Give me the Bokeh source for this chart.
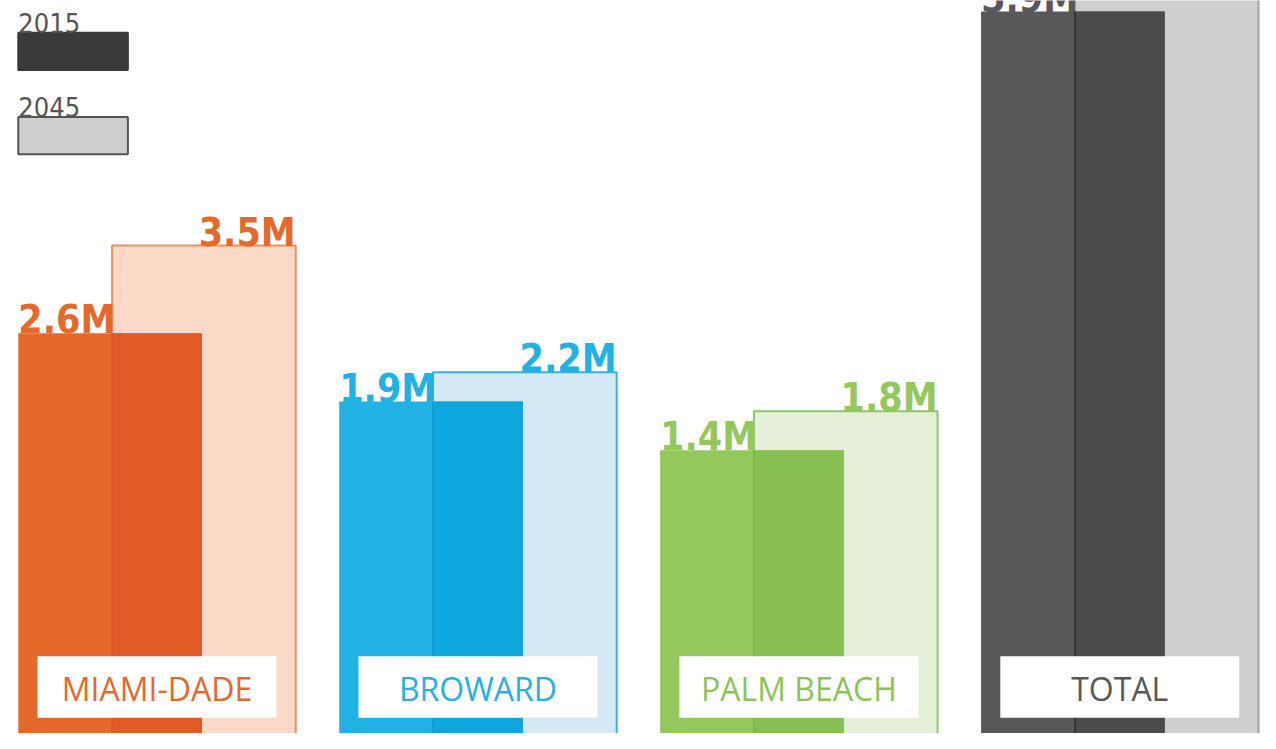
from bokeh.plotting import figure
from bokeh.models import Range1d, ColumnDataSource
from bokeh.core.properties import value
from bokeh.embed import file_html
from bokeh.resources import INLINE

# ---------------- data ----------------
counties = ["MIAMI-DADE", "BROWARD", "PALM BEACH", "TOTAL"]
pop_2015 = [2.6, 1.9, 1.4, 5.9]          # millions
pop_2045 = [3.5, 2.2, 1.8, 7.5]          # millions
labels_2015 = ["2.6M", "1.9M", "1.4M", "5.9M"]
labels_2045 = ["3.5M", "2.2M", "1.8M", "7.5M"]
legend_years = ["2015", "2045"]

# ---------------- styles ----------------
color_2015 = ["#E5692B", "#22B1E3", "#94C85C", "#58585A"]
color_overlap = ["#E05B25", "#0EA6DC", "#87BF52", "#4C4B4B"]
color_2045_fill = ["#FAD9C6", "#D5E8F5", "#E6F0D8", "#D0CECF"]
color_2045_line = ["#EE8F62", "#3AAFE0", "#8FC56B", "#A3A2A3"]
color_divider = ["#D9542A", "#0A9ACF", "#78B548", "#2E2E2E"]
color_text = ["#E36A2E", "#2BAEE0", "#8CC35A", "#58585A"]
legend_fill = ["#3A3A3A", "#D0CFD0"]
legend_line = ["#3A3A3A", "#555555"]

W, H = 1260, 733
REF_W, REF_H = 1276, 749
PX_GROUP = 325.0       # reference pixels between groups
PX_PER_M = 99.6        # reference pixels per million
ZERO_Y = 599.0         # reference y of value 0
FIRST_X = 111.0        # reference x of the first group centre
BAR_W = 186.0 / PX_GROUP
OFFSET = 95.0 / PX_GROUP
BASE = -3.0            # bars run off the bottom edge


def fx(px):
    return (px - FIRST_X) / PX_GROUP


def fy(py):
    return (ZERO_Y - py) / PX_PER_M


Y_TOP = fy(0)

p = figure(width=W, height=H, output_backend="svg", toolbar_location=None,
           x_range=Range1d(fx(0), fx(REF_W)),
           y_range=Range1d(fy(REF_H), Y_TOP),
           min_border=0)
p.axis.visible = False
p.grid.visible = False
p.outline_line_color = None
p.background_fill_color = "white"
p.border_fill_color = "white"

n = len(counties)
idx = list(range(n))
left15 = [i - BAR_W / 2 for i in idx]
right15 = [i + BAR_W / 2 for i in idx]
left45 = [l + OFFSET for l in left15]
right45 = [r + OFFSET for r in right15]

src = ColumnDataSource(dict(
    county=counties, v15=pop_2015, v45=pop_2045,
    l15=left15, r15=right15, l45=left45, r45=right45,
    base=[BASE] * n,
    ovtop=[min(a, b) for a, b in zip(pop_2015, pop_2045)],
    c15=color_2015, cov=color_overlap, f45=color_2045_fill,
    ln45=color_2045_line, cdiv=color_divider, ctext=color_text,
    cx=[i + OFFSET / 2 for i in idx],
))

# 2045 bars (behind)
p.quad(left="l45", right="r45", bottom="base", top="v45", source=src,
       fill_color="f45", line_color="ln45", line_width=2)
# 2015 bars
p.quad(left="l15", right="r15", bottom="base", top="v15", source=src,
       fill_color="c15", line_color=None)
# overlap region darker
p.quad(left="l45", right="r15", bottom="base", top="ovtop", source=src,
       fill_color="cov", line_color=None)
# 2045 left edge visible through 2015 bar
p.segment(x0="l45", x1="l45", y0="base", y1="ovtop", source=src,
          line_color="cdiv", line_width=1.5)

# value labels (only those inside the visible range)
VAL_FONT = value("DejaVu Sans Condensed, Liberation Sans Narrow, Roboto, sans-serif")
lab = dict(x=[], y=[], t=[], c=[], a=[])
for i in idx:
    if pop_2015[i] < Y_TOP + 0.3:
        lab["x"].append(left15[i]); lab["y"].append(pop_2015[i])
        lab["t"].append(labels_2015[i]); lab["c"].append(color_2015[i])
        lab["a"].append("left")
    if pop_2045[i] < Y_TOP + 0.3:
        lab["x"].append(right45[i]); lab["y"].append(pop_2045[i])
        lab["t"].append(labels_2045[i]); lab["c"].append(color_2015[i])
        lab["a"].append("right")
lab_src = ColumnDataSource(lab)
p.text(x="x", y="y", text="t", source=lab_src, text_color="c",
       text_font=VAL_FONT, text_font_style="bold", text_font_size="39px",
       text_align="a", text_baseline="bottom", y_offset=9)

# category label boxes
box_w = 242.0 / PX_GROUP
p.rect(x="cx", y=(fy(670) + fy(733)) / 2, width=box_w,
       height=fy(670) - fy(733), source=src,
       fill_color="white", line_color=None)
p.text(x="cx", y=fy(703), text="county", source=src, text_color="ctext",
       text_font=value("Open Sans"), text_font_size="32px",
       text_align="center", text_baseline="middle")

# legend (top-left)
leg = ColumnDataSource(dict(
    year=legend_years,
    l=[fx(18)] * 2, r=[fx(129)] * 2,
    t=[fy(33), fy(119)], b=[fy(71), fy(157)],
    ty=[fy(31), fy(117)],
    fill=legend_fill, line=legend_line,
))
p.quad(left="l", right="r", top="t", bottom="b", source=leg,
       fill_color="fill", line_color="line", line_width=2)
p.text(x="l", y="ty", text="year", source=leg, text_color="#555555",
       text_font=VAL_FONT, text_font_size="27px",
       text_align="left", text_baseline="bottom", y_offset=2)

open("out.html", "w").write(file_html(p, INLINE))
